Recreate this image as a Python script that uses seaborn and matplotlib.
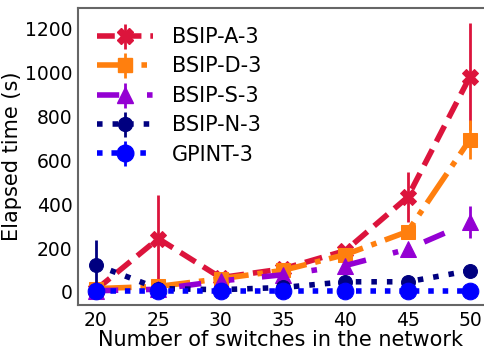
import matplotlib
matplotlib.use("Agg")
import matplotlib.pyplot as plt
from matplotlib.lines import Line2D
import numpy as np
import pandas as pd
import seaborn as sns

sns.set_theme(style="white")
plt.rcParams["font.family"] = ["DejaVu Sans"]
plt.rcParams["text.color"] = "black"
plt.rcParams["axes.labelcolor"] = "black"
plt.rcParams["xtick.color"] = "black"
plt.rcParams["ytick.color"] = "black"

switches = [20, 25, 30, 35, 40, 45, 50]

bsip_a = [10, 243, 65, 105, 188, 432, 982]
bsip_a_err = [0, 200, 0, 0, 0, 115, 245]
bsip_d = [15, 25, 60, 98, 170, 275, 695]
bsip_d_err = [0, 0, 0, 0, 0, 0, 90]
bsip_s = [5, 12, 50, 78, 120, 195, 318]
bsip_s_err = [0, 0, 0, 0, 0, 0, 72]
bsip_n = [123, 15, 10, 20, 46, 46, 97]
bsip_n_err = [115, 0, 0, 0, 0, 0, 0]
gpint = [2, 2, 2, 2, 2, 2, 2]
gpint_err = [0, 0, 0, 0, 0, 0, 0]

labels = ["BSIP-A-3", "BSIP-D-3", "BSIP-S-3", "BSIP-N-3", "GPINT-3"]
values = [bsip_a, bsip_d, bsip_s, bsip_n, gpint]
errors = [bsip_a_err, bsip_d_err, bsip_s_err, bsip_n_err, gpint_err]
colors = ["#DC143C", "#FF7F0E", "#9400D3", "#000080", "#0000FF"]
markers = ["X", "s", "^", "o", "o"]
msizes = [11, 10, 11, 10, 12]
styles = [(0, (3.2, 1.6)), "-.", (0, (4, 5, 1, 5)), (0, (1, 1.8)), (0, (1, 1.6))]

fig = plt.figure(figsize=(4.84, 3.49), dpi=100)
ax = fig.add_axes([0.161, 0.126, 0.837, 0.851])

handles = []
for lab, vals, err, col, mk, ms, ls in zip(labels, values, errors, colors,
                                            markers, msizes, styles):
    df = pd.DataFrame({"switches": switches, "time": vals})
    sns.lineplot(data=df, x="switches", y="time", ax=ax, color=col,
                 linestyle=ls, linewidth=4, marker=mk, markersize=ms,
                 markeredgecolor=col, legend=False)
    ax.errorbar(switches, vals, yerr=err, fmt="none", ecolor=col,
                elinewidth=2, capsize=0)
    line = Line2D([], [], color=col, linestyle=ls, linewidth=4,
                  marker=mk, markersize=ms, markeredgecolor=col)
    bar = Line2D([], [], color=col, linestyle="none", marker="|",
                 markersize=18, markeredgewidth=2)
    handles.append((line, bar))

ax.set_xlim(18.55, 51.05)
ax.set_ylim(-60, 1295)
ax.set_xticks(switches)
ax.set_yticks([0, 200, 400, 600, 800, 1000, 1200])
ax.tick_params(axis="both", labelsize=13.5, length=2, color="#666666", pad=2)
ax.set_xlabel("Number of switches in the network", fontsize=15, labelpad=0)
ax.set_ylabel("Elapsed time (s)", fontsize=15, labelpad=2)

for side in ["left", "top", "bottom"]:
    ax.spines[side].set_color("#666666")
    ax.spines[side].set_linewidth(1.5)
ax.spines["right"].set_visible(False)

ax.legend(handles, labels, loc="upper left", frameon=False, fontsize=15,
          handlelength=2.7, handletextpad=0.9, labelspacing=0.45,
          borderaxespad=0.3, bbox_to_anchor=(0.01, 0.985))

fig.savefig("out.png", dpi=100)
